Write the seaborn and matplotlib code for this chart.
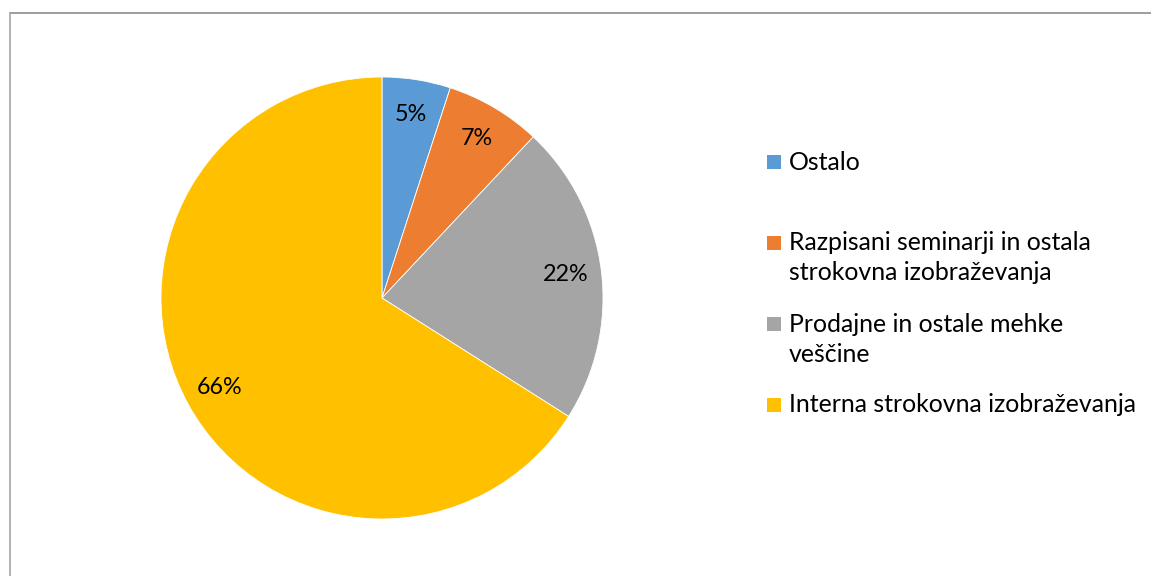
import matplotlib
matplotlib.use("Agg")
import matplotlib.pyplot as plt
from matplotlib.patches import Rectangle
from matplotlib.lines import Line2D
import seaborn as sns

# Share of training types
categories = [
    "Ostalo",
    "Razpisani seminarji in ostala\nstrokovna izobraževanja",
    "Prodajne in ostale mehke\nveščine",
    "Interna strokovna izobraževanja",
]
shares = [5, 7, 22, 66]
colors = ["#5B9BD5", "#ED7D31", "#A5A5A5", "#FFC000"]

sns.set_theme(style="white")
plt.rcParams["font.family"] = ["Lato", "DejaVu Sans"]

W, H = 1151, 576
fig = plt.figure(figsize=(W / 100, H / 100), dpi=100)
fig.patch.set_facecolor("white")

# Pie placed by its centre and radius in pixels
cx, cy, r = 382, 298, 221
ax = fig.add_axes([(cx - r) / W, (H - cy - r) / H, 2 * r / W, 2 * r / H])
wedges, texts, autotexts = ax.pie(
    shares,
    colors=colors,
    startangle=90,
    counterclock=False,
    autopct="%d%%",
    pctdistance=0.84,
    wedgeprops=dict(edgecolor="white", linewidth=0.6),
    textprops=dict(fontsize=16.8, color="black"),
)
ax.set_xlim(-1, 1)
ax.set_ylim(-1, 1)
ax.set_axis_off()

# Legend drawn as swatches and text on the right
fs = 17.9
line_h = 30
slot_h = 81
x_sw, x_txt = 767, 789
y0 = 162
for i, (lab, col) in enumerate(zip(categories, colors)):
    y = y0 + i * slot_h
    sw = 14
    fig.patches.append(Rectangle(((x_sw) / W, (H - y - sw / 2) / H), sw / W, sw / H,
                                 transform=fig.transFigure, facecolor=col,
                                 edgecolor="none"))
    for j, part in enumerate(lab.split("\n")):
        fig.text(x_txt / W, (H - y - j * line_h) / H, part, fontsize=fs,
                 color="black", ha="left", va="center")

# Chart frame (top and left edges visible)
fig.add_artist(Line2D([10 / W, 1.0], [(H - 13) / H] * 2, transform=fig.transFigure,
                      color="#8c8c8c", linewidth=1.2))
fig.add_artist(Line2D([10 / W] * 2, [0, (H - 13) / H], transform=fig.transFigure,
                      color="#a6a6a6", linewidth=1.2))

fig.savefig("out.png", dpi=100, facecolor="white")
